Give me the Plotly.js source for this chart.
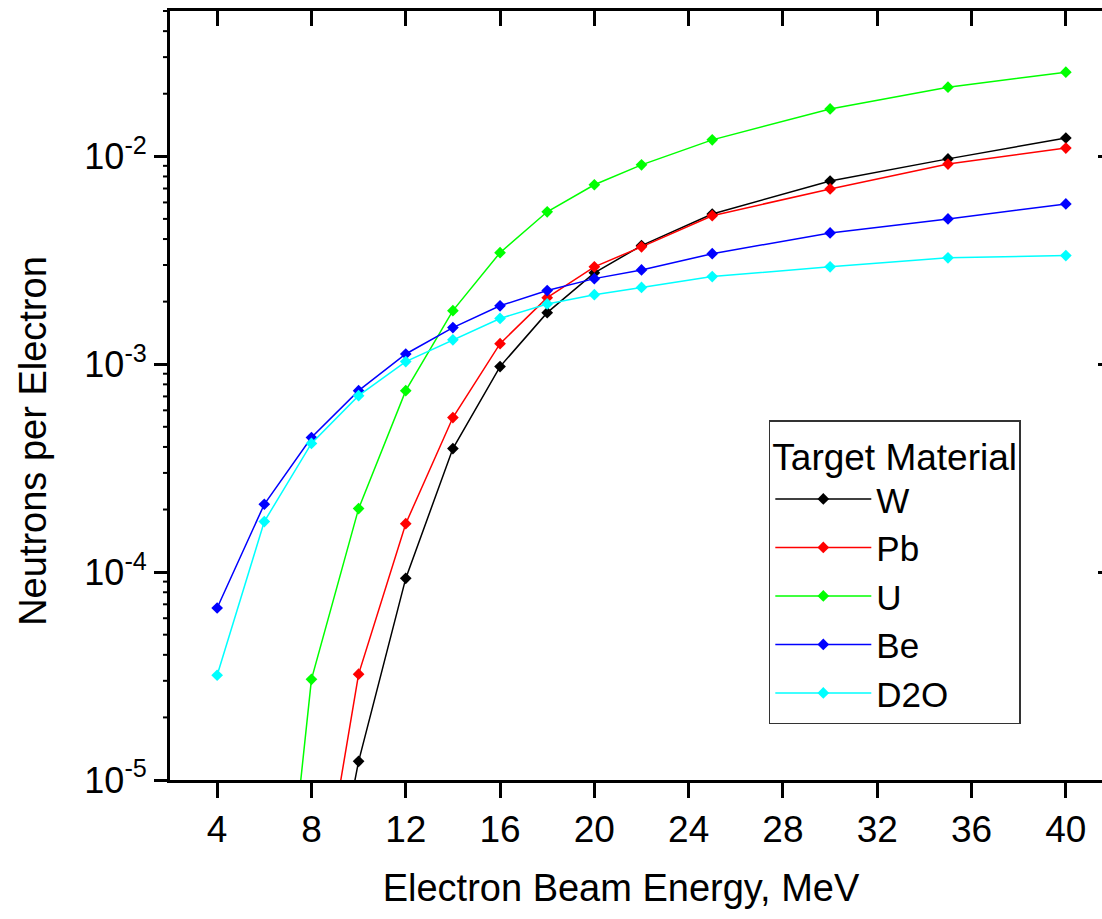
<!DOCTYPE html>
<html>
<head>
<meta charset="utf-8">
<script src="https://cdn.plot.ly/plotly-3.0.1.min.js"></script>
<style>
html,body{margin:0;padding:0;overflow:hidden;background:#fff;}
#chart{width:1125px;height:919px;}
</style>
</head>
<body>
<div id="chart"></div>
<script>
// Electron beam energy (MeV)
const energy = [4, 6, 8, 10, 12, 14, 16, 18, 20, 22, 25, 30, 35, 40];
// Neutrons per electron by target material (null = not plotted)
const W   = [null, null, 8.4e-7, 1.23e-5, 9.33e-5, 3.93e-4, 9.74e-4, 1.77e-3, 2.75e-3, 3.72e-3, 5.28e-3, 7.6e-3, 9.72e-3, 1.225e-2];
const Pb  = [null, null, 1.44e-6, 3.23e-5, 1.71e-4, 5.54e-4, 1.256e-3, 2.09e-3, 2.94e-3, 3.67e-3, 5.18e-3, 6.97e-3, 9.18e-3, 1.096e-2];
const U   = [null, 2.2e-7, 3.05e-5, 2.02e-4, 7.46e-4, 1.81e-3, 3.44e-3, 5.41e-3, 7.3e-3, 9.1e-3, 1.20e-2, 1.69e-2, 2.15e-2, 2.54e-2];
const Be  = [6.72e-5, 2.12e-4, 4.44e-4, 7.46e-4, 1.12e-3, 1.50e-3, 1.91e-3, 2.26e-3, 2.58e-3, 2.84e-3, 3.40e-3, 4.28e-3, 5.0e-3, 5.90e-3];
const D2O = [3.19e-5, 1.75e-4, 4.16e-4, 7.06e-4, 1.03e-3, 1.31e-3, 1.66e-3, 1.95e-3, 2.16e-3, 2.34e-3, 2.64e-3, 2.94e-3, 3.25e-3, 3.33e-3];

const seriesNames  = ["W", "Pb", "U", "Be", "D2O"];
const seriesValues = [W, Pb, U, Be, D2O];
const seriesColors = ["#000000", "#ff0000", "#00ff00", "#0000ff", "#00ffff"];

const xTickVals = [4, 8, 12, 16, 20, 24, 28, 32, 36, 40];
const yTickVals = [1e-5, 1e-4, 1e-3, 1e-2];
const yTickText = ["10<sup>-5</sup>", "10<sup>-4</sup>", "10<sup>-3</sup>", "10<sup>-2</sup>"];
const legendTitle = "Target Material";
const xTitle = "Electron Beam Energy, MeV";
const yTitle = "Neutrons per Electron";

const FONT = "Liberation Sans, Arial, sans-serif";

const xRange = [2, 42];
const yRange = [-5, Math.log10(0.05)];

// minor tick positions 2..9 within each decade (axis decoration)
const yMinorVals = [];
yTickVals.forEach(d => { for (let m = 2; m <= 9; m++) { const v = m * d; if (Math.log10(v) <= yRange[1] + 1e-9) yMinorVals.push(v); } });

const PLOT_W = 1125 - 170 - 12;
const minorTickShapes = yMinorVals.map(v => {
  const yp = (Math.log10(v) - yRange[0]) / (yRange[1] - yRange[0]);
  return {type: "line", xref: "paper", yref: "paper", x0: -7 / PLOT_W, x1: -1 / PLOT_W, y0: yp, y1: yp,
          line: {color: "#000", width: 2}, layer: "above"};
});

const traces = seriesNames.map((name, i) => ({
  type: "scatter",
  mode: "lines+markers",
  name: name,
  x: energy,
  y: seriesValues[i],
  line: {color: seriesColors[i], width: 1.5},
  marker: {symbol: "diamond", size: 9, color: seriesColors[i]},
  connectgaps: false,
  hoverinfo: "skip"
}));
// empty traces carrying the helper axes (mirrored ticks, titles)
traces.push({type: "scatter", x: [], y: [], xaxis: "x2", yaxis: "y2", showlegend: false, hoverinfo: "skip"});
traces.push({type: "scatter", x: [], y: [], xaxis: "x", yaxis: "y3", showlegend: false, hoverinfo: "skip"});
traces.push({type: "scatter", x: [], y: [], xaxis: "x3", yaxis: "y", showlegend: false, hoverinfo: "skip"});

const layout = {
  width: 1125,
  height: 919,
  margin: {l: 170, r: 12, t: 11, b: 139},
  paper_bgcolor: "#ffffff",
  plot_bgcolor: "rgba(0,0,0,0)",
  font: {family: FONT, color: "#000000", size: 37},
  showlegend: true,
  shapes: minorTickShapes,
  xaxis: {
    range: xRange,
    tickvals: xTickVals,
    ticks: "outside", ticklen: 15, tickwidth: 3, tickcolor: "#000",
    showline: true, linewidth: 3, linecolor: "#000", mirror: true,
    showgrid: false, zeroline: false,
    tickfont: {size: 37, family: FONT}
  },
  yaxis: {
    type: "log",
    range: yRange,
    tickvals: yTickVals,
    ticktext: yTickText,
    ticks: "outside", ticklen: 13, tickwidth: 3, tickcolor: "#000",
    showline: true, linewidth: 3, linecolor: "#000", mirror: true,
    showgrid: false, zeroline: false,
    tickfont: {size: 36, family: FONT}
  },
  xaxis2: {
    overlaying: "x", side: "top", anchor: "y", range: xRange,
    tickvals: xTickVals, ticks: "inside", ticklen: 15, tickwidth: 3, tickcolor: "#000",
    showticklabels: false, showline: false, showgrid: false, zeroline: false
  },
  yaxis2: {
    overlaying: "y", side: "right", anchor: "x2", type: "log", range: yRange,
    tickvals: yTickVals, ticks: "inside", ticklen: 15, tickwidth: 3, tickcolor: "#000",
    showticklabels: false, showline: false, showgrid: false, zeroline: false
  },
  // helper axes that only carry the axis titles (placed as in the reference)
  xaxis3: {
    domain: [0, 0.9565], anchor: "y", side: "bottom", range: xRange,
    showticklabels: false, ticks: "", showline: false, showgrid: false, zeroline: false,
    title: {text: xTitle, font: {size: 38, family: FONT}, standoff: 94}
  },
  yaxis3: {
    domain: [0, 0.8816], anchor: "x", side: "left",
    showticklabels: false, ticks: "", showline: false, showgrid: false, zeroline: false,
    title: {text: yTitle, font: {size: 38, family: FONT}, standoff: 110}
  },
  legend: {
    x: 0.635, y: 0.468, xanchor: "left", yanchor: "top",
    bgcolor: "#ffffff", bordercolor: "#333333", borderwidth: 1.5,
    font: {size: 35, family: FONT, color: "#000"},
    title: {text: legendTitle, font: {size: 37, family: FONT, color: "#000"}},
    itemwidth: 96,
    tracegroupgap: 0
  }
};

Plotly.newPlot("chart", traces, layout, {staticPlot: true, displayModeBar: false});
</script>
</body>
</html>
